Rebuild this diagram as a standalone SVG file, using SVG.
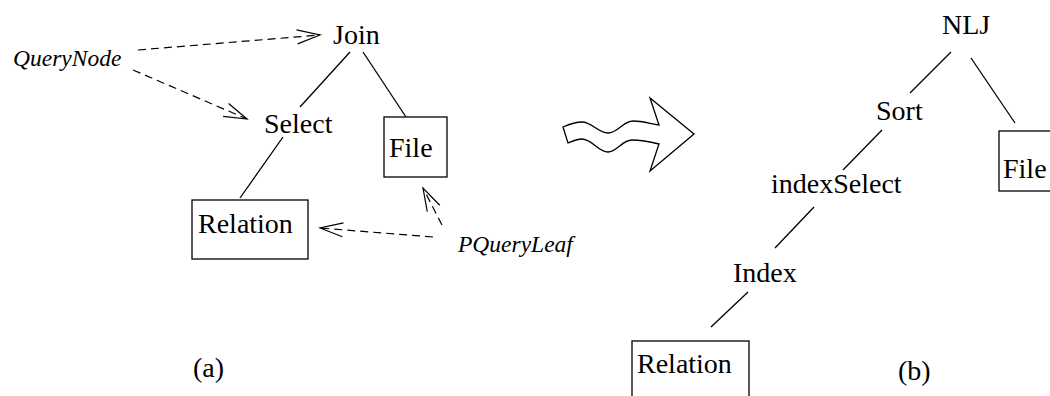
<svg xmlns="http://www.w3.org/2000/svg" width="1050" height="396" viewBox="0 0 1050 396">
<style>
.t{font-size:28px;fill:#000}
.i{font-size:23.5px;font-style:italic;fill:#000}
.box{fill:none;stroke:#000;stroke-width:1.3}
.e{stroke:#000;stroke-width:1.3;fill:none}
.d{stroke:#000;stroke-width:1.2;fill:none;stroke-dasharray:8 5;marker-end:url(#open)}
</style>
<defs>
<marker id="open" markerUnits="userSpaceOnUse" markerWidth="30" markerHeight="20" refX="23" refY="7" orient="auto" overflow="visible">
<path d="M0,0 L23,7 L0,14" fill="none" stroke="#000" stroke-width="1.2"/>
</marker>
</defs>
<rect width="1050" height="396" fill="#fff"/>
<g id="connectors">
<line class="e" x1="350" y1="52" x2="300" y2="107"/>
<line class="e" x1="363" y1="52" x2="406" y2="117"/>
<line class="e" x1="283" y1="137" x2="240" y2="198"/>
<line class="d" x1="138" y1="50" x2="320" y2="35"/>
<line class="d" x1="133" y1="70" x2="247" y2="119"/>
<line class="d" x1="433" y1="237" x2="320" y2="228"/>
<line class="d" x1="442" y1="225" x2="423" y2="188"/>
<line class="e" x1="951" y1="52" x2="910" y2="93"/>
<line class="e" x1="971" y1="58" x2="1015" y2="123"/>
<line class="e" x1="882" y1="130" x2="843" y2="170"/>
<line class="e" x1="814" y1="207" x2="775" y2="248"/>
<line class="e" x1="748" y1="292" x2="711" y2="327"/>
</g>
<g font-family="Liberation Serif, serif">
<g id="querynode"><text class="i" x="13" y="66">QueryNode</text></g>
<g id="join"><text class="t" x="333" y="44">Join</text></g>
<g id="select"><text class="t" x="264" y="133">Select</text></g>
<g id="file-a"><rect class="box" x="384" y="117" width="63" height="60"/><text class="t" x="389" y="157">File</text></g>
<g id="relation-a"><rect class="box" x="192" y="200" width="116" height="59"/><text class="t" x="198" y="233">Relation</text></g>
<g id="pqueryleaf"><text class="i" x="458" y="252">PQueryLeaf</text></g>
<g id="label-a"><text class="t" x="193" y="377">(a)</text></g>
<g id="transform-arrow">
<path class="e" d="M563,127 C570,124 576,122 582,122 C592,122 598,133 608,133 C618,133 623,121 633,121 C643,121 651,124 659,125 L650,98 L694,134 L650,171 L659,144 C651,142 642,140 632,140 C622,140 617,152 608,152 C598,152 592,139 582,139 C577,139 573,141 568,143 Z"/>
</g>
<g id="nlj"><text class="t" x="942" y="34">NLJ</text></g>
<g id="sort"><text class="t" x="876" y="120">Sort</text></g>
<g id="file-b"><rect class="box" x="999" y="131" width="63" height="60"/><text class="t" x="1003" y="178">File</text></g>
<g id="indexselect"><text class="t" x="771" y="193">indexSelect</text></g>
<g id="index"><text class="t" x="733" y="282">Index</text></g>
<g id="relation-b"><rect class="box" x="632" y="341" width="117" height="70"/><text class="t" x="637" y="373">Relation</text></g>
<g id="label-b"><text class="t" x="898" y="380">(b)</text></g>
</g>
</svg>
